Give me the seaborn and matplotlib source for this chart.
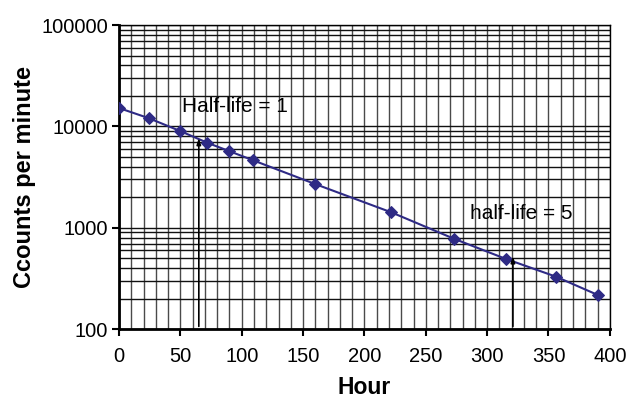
import numpy as np
import pandas as pd
import seaborn as sns
import matplotlib.pyplot as plt
from matplotlib.ticker import FixedLocator, LogLocator, NullFormatter

hours = [0, 24, 50, 72, 90, 109, 160, 222, 273, 315, 356, 390]
counts = [15200, 12100, 9000, 6900, 5700, 4650, 2700, 1420, 780, 495, 330, 218]

labels = ["Half-life = 1", "half-life = 5"]
label_hours = [65, 321]
label_tops = [8200, 560]

sns.set_theme(style="white")
plt.rcParams['font.family'] = ['Liberation Sans', 'DejaVu Sans']
plt.rcParams['text.color'] = 'black'
plt.rcParams['axes.labelcolor'] = 'black'
plt.rcParams['xtick.color'] = 'black'
plt.rcParams['ytick.color'] = 'black'

fig = plt.figure(figsize=(6.3, 3.99), dpi=100)
ax = fig.add_axes([0.189, 0.175, 0.779, 0.762])

df = pd.DataFrame({"Hour": hours, "Counts": counts})
sns.lineplot(data=df, x="Hour", y="Counts", ax=ax, color="#2e2a85",
             marker="D", markersize=6, markeredgecolor="#2e2a85",
             linewidth=1.5, zorder=5)

ax.set_yscale("log")
ax.set_xlim(0, 400)
ax.set_ylim(100, 100000)

ax.xaxis.set_major_locator(FixedLocator(np.arange(0, 401, 50)))
ax.xaxis.set_minor_locator(FixedLocator(np.arange(0, 401, 10)))
ax.yaxis.set_major_locator(FixedLocator([100, 1000, 10000, 100000]))
ax.yaxis.set_minor_locator(LogLocator(base=10, subs=np.arange(2, 10)))
ax.yaxis.set_minor_formatter(NullFormatter())
ax.set_yticklabels(["100", "1000", "10000", "100000"])

ax.grid(True, which="both", axis="x", color="#4a4a4a", linewidth=1.0)
ax.grid(True, which="both", axis="y", color="#111111", linewidth=1.0)

ax.tick_params(axis="both", which="major", direction="out", length=5,
               width=1.5, color="black", labelcolor="black", labelsize=14.5,
               bottom=True, left=True)
ax.tick_params(axis="x", which="major", pad=8)
ax.tick_params(axis="y", which="major", pad=3)
ax.tick_params(axis="both", which="minor", length=0)

for side in ["left", "bottom"]:
    ax.spines[side].set_linewidth(2)
    ax.spines[side].set_color("black")
for side in ["top", "right"]:
    ax.spines[side].set_linewidth(1)
    ax.spines[side].set_color("black")

ax.set_xlabel("Hour", fontsize=16.5, fontweight="bold", labelpad=7)
ax.set_ylabel("Ccounts per minute", fontsize=17, fontweight="bold", labelpad=4)

for h, top in zip(label_hours, label_tops):
    ax.annotate("", xy=(h, top), xytext=(h, 100),
                arrowprops=dict(arrowstyle="-|>,head_length=0.3,head_width=0.1",
                                color="black", lw=1.2), zorder=6)

ax.text(51, 15900, labels[0], fontsize=15, ha="left", va="center", zorder=7)
ax.text(286, 1400, labels[1], fontsize=15, ha="left", va="center", zorder=7)

fig.savefig("out.png", dpi=100)
